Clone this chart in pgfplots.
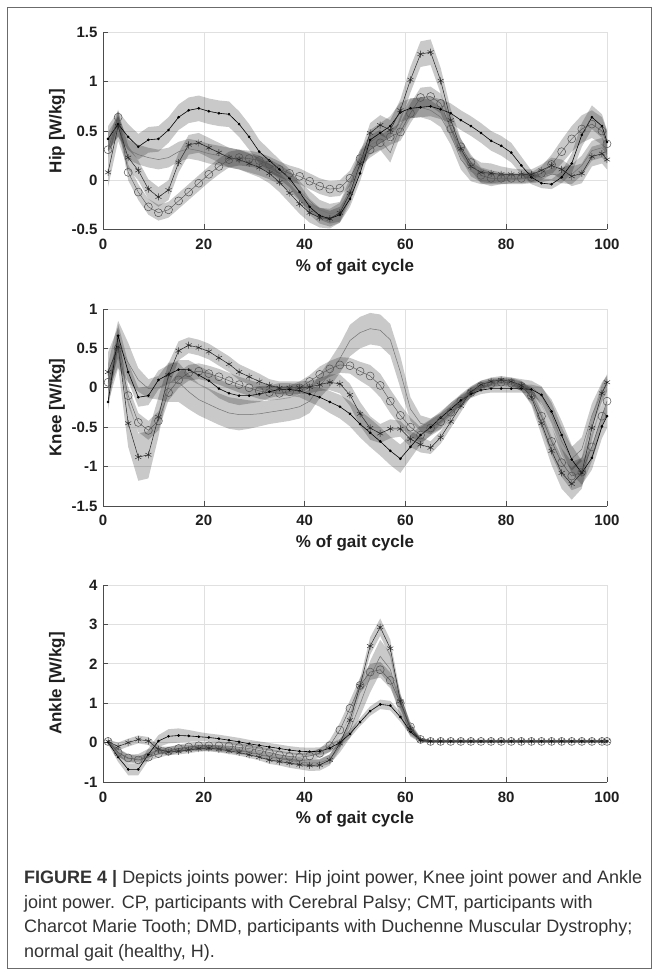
\documentclass[border=0pt]{standalone}
\usepackage{fontspec}
\setmainfont{Liberation Sans}
\usepackage{pgfplots}
\usepackage{pgfplotstable}
\pgfplotsset{compat=1.18}

\definecolor{gridgray}{gray}{0.88}
\definecolor{axgray}{gray}{0.30}
\definecolor{framegray}{gray}{0.42}

% columns: x, a = circles, b = asterisks, c = dots, d = thin line; s* = band half-width
\pgfplotstableread{
x a sa b sb c sc d sd
1 0.31 0.08 0.08 0.15 0.42 0.13 0.39 0.10
3 0.64 0.08 0.55 0.15 0.57 0.13 0.55 0.10
5 0.08 0.08 0.23 0.12 0.44 0.13 0.31 0.10
7 -0.12 0.08 0.10 0.10 0.34 0.13 0.26 0.10
9 -0.27 0.08 -0.09 0.10 0.41 0.13 0.23 0.10
11 -0.33 0.08 -0.17 0.10 0.42 0.13 0.21 0.10
13 -0.30 0.08 -0.10 0.10 0.51 0.13 0.23 0.10
15 -0.21 0.08 0.18 0.10 0.64 0.13 0.29 0.10
17 -0.12 0.08 0.36 0.10 0.71 0.13 0.32 0.10
19 -0.03 0.08 0.38 0.10 0.73 0.13 0.30 0.10
21 0.06 0.08 0.33 0.10 0.70 0.13 0.27 0.10
23 0.14 0.08 0.28 0.10 0.68 0.13 0.25 0.10
25 0.21 0.08 0.23 0.10 0.67 0.13 0.23 0.10
27 0.23 0.08 0.21 0.10 0.57 0.13 0.21 0.10
29 0.22 0.08 0.17 0.10 0.44 0.13 0.18 0.10
31 0.20 0.08 0.13 0.10 0.29 0.12 0.15 0.10
33 0.16 0.08 0.07 0.10 0.20 0.11 0.11 0.10
35 0.11 0.08 -0.02 0.10 0.11 0.10 0.06 0.10
37 0.07 0.08 -0.13 0.10 0.02 0.09 -0.01 0.10
39 0.04 0.08 -0.24 0.10 -0.12 0.08 -0.11 0.10
41 -0.01 0.08 -0.33 0.10 -0.27 0.08 -0.21 0.10
43 -0.06 0.08 -0.38 0.10 -0.36 0.08 -0.30 0.10
45 -0.09 0.08 -0.39 0.10 -0.39 0.08 -0.34 0.10
47 -0.08 0.08 -0.33 0.10 -0.35 0.08 -0.32 0.10
49 0.02 0.08 -0.13 0.10 -0.19 0.08 -0.08 0.10
51 0.22 0.08 0.17 0.10 0.07 0.08 0.21 0.10
53 0.31 0.08 0.48 0.10 0.41 0.10 0.36 0.10
55 0.38 0.08 0.56 0.10 0.48 0.10 0.41 0.10
57 0.44 0.08 0.51 0.10 0.55 0.10 0.28 0.10
59 0.49 0.09 0.71 0.11 0.69 0.10 0.55 0.10
61 0.68 0.10 1.02 0.13 0.73 0.10 0.73 0.10
63 0.84 0.10 1.28 0.13 0.74 0.10 0.74 0.10
65 0.85 0.10 1.30 0.13 0.75 0.10 0.71 0.10
67 0.78 0.10 1.01 0.13 0.72 0.10 0.64 0.10
69 0.52 0.09 0.61 0.11 0.68 0.10 0.46 0.10
71 0.34 0.08 0.32 0.10 0.61 0.10 0.21 0.10
73 0.18 0.08 0.14 0.10 0.55 0.10 0.09 0.10
75 0.05 0.08 0.08 0.10 0.48 0.10 0.04 0.08
77 0.02 0.08 0.07 0.10 0.40 0.10 0.02 0.06
79 0.02 0.06 0.06 0.08 0.35 0.10 0.01 0.05
81 0.02 0.05 0.06 0.06 0.28 0.10 0.01 0.05
83 0.02 0.05 0.06 0.05 0.15 0.09 0.01 0.05
85 0.03 0.05 0.06 0.05 0.03 0.07 0.02 0.05
87 0.07 0.07 0.10 0.06 -0.03 0.05 0.03 0.05
89 0.16 0.10 0.15 0.08 -0.04 0.05 0.06 0.06
91 0.29 0.12 0.11 0.10 0.03 0.06 0.05 0.08
93 0.42 0.13 0.04 0.10 0.17 0.10 0.06 0.10
95 0.52 0.14 0.07 0.10 0.46 0.12 0.15 0.10
97 0.57 0.14 0.24 0.10 0.64 0.12 0.30 0.10
99 0.50 0.14 0.27 0.10 0.55 0.12 0.33 0.10
100 0.37 0.13 0.21 0.10 0.39 0.12 0.27 0.10
}\hipdata

\pgfplotstableread{
x a sa b sb c sc d sd
1 0.07 0.10 0.20 0.25 -0.18 0.10 0.05 0.25
3 0.50 0.12 0.52 0.25 0.66 0.15 0.55 0.30
5 -0.10 0.12 -0.45 0.30 0.20 0.12 0.32 0.25
7 -0.44 0.12 -0.88 0.30 -0.12 0.12 0.10 0.15
9 -0.54 0.12 -0.85 0.30 -0.10 0.12 -0.01 0.12
11 -0.42 0.12 -0.37 0.25 0.10 0.12 0.00 0.15
13 -0.06 0.10 0.16 0.15 0.17 0.12 0.07 0.25
15 0.10 0.10 0.47 0.12 0.23 0.12 0.07 0.25
17 0.19 0.10 0.54 0.10 0.23 0.12 -0.05 0.22
19 0.21 0.10 0.51 0.10 0.16 0.12 -0.15 0.20
21 0.18 0.10 0.46 0.10 0.09 0.12 -0.21 0.20
23 0.14 0.10 0.38 0.10 -0.01 0.12 -0.27 0.20
25 0.09 0.10 0.30 0.10 -0.07 0.12 -0.32 0.20
27 0.04 0.10 0.20 0.10 -0.10 0.12 -0.34 0.20
29 0.00 0.10 0.14 0.10 -0.10 0.10 -0.34 0.18
31 -0.04 0.10 0.08 0.10 -0.08 0.10 -0.33 0.16
33 -0.06 0.10 0.03 0.08 -0.05 0.08 -0.31 0.15
35 -0.07 0.08 0.00 0.08 -0.02 0.08 -0.29 0.15
37 -0.05 0.08 0.00 0.08 -0.02 0.08 -0.27 0.15
39 0.00 0.08 0.00 0.08 -0.04 0.08 -0.24 0.15
41 0.08 0.08 0.01 0.08 -0.08 0.10 -0.17 0.15
43 0.17 0.10 0.04 0.08 -0.12 0.12 0.02 0.15
45 0.24 0.10 0.07 0.10 -0.18 0.14 0.18 0.17
47 0.29 0.10 0.05 0.12 -0.24 0.15 0.37 0.18
49 0.28 0.10 -0.09 0.14 -0.33 0.16 0.60 0.20
51 0.21 0.12 -0.33 0.15 -0.46 0.17 0.70 0.20
53 0.15 0.14 -0.51 0.15 -0.57 0.18 0.75 0.20
55 0.03 0.15 -0.58 0.12 -0.68 0.18 0.73 0.20
57 -0.17 0.15 -0.52 0.12 -0.80 0.18 0.61 0.20
59 -0.35 0.14 -0.52 0.10 -0.90 0.18 0.20 0.20
61 -0.50 0.12 -0.65 0.10 -0.75 0.15 -0.27 0.15
63 -0.60 0.10 -0.72 0.10 -0.60 0.12 -0.45 0.10
65 -0.51 0.10 -0.76 0.08 -0.50 0.10 -0.49 0.10
67 -0.43 0.10 -0.63 0.08 -0.38 0.08 -0.42 0.10
69 -0.31 0.08 -0.43 0.08 -0.27 0.08 -0.27 0.08
71 -0.17 0.08 -0.23 0.08 -0.16 0.06 -0.14 0.06
73 -0.06 0.06 -0.05 0.06 -0.08 0.05 -0.03 0.05
75 0.02 0.05 0.04 0.05 -0.03 0.05 0.04 0.05
77 0.05 0.05 0.08 0.05 -0.01 0.05 0.07 0.05
79 0.07 0.05 0.10 0.05 -0.01 0.05 0.08 0.05
81 0.06 0.05 0.08 0.05 -0.01 0.05 0.08 0.05
83 0.02 0.06 0.03 0.06 -0.01 0.05 0.05 0.06
85 -0.10 0.10 -0.12 0.10 -0.02 0.06 0.01 0.08
87 -0.36 0.15 -0.45 0.15 -0.09 0.10 -0.10 0.12
89 -0.68 0.18 -0.80 0.18 -0.30 0.15 -0.34 0.15
91 -0.95 0.18 -1.08 0.20 -0.60 0.18 -0.68 0.18
93 -1.12 0.18 -1.22 0.20 -0.91 0.18 -0.90 0.15
95 -1.07 0.18 -1.08 0.20 -1.08 0.15 -0.78 0.15
97 -0.75 0.18 -0.51 0.15 -0.89 0.15 -0.35 0.15
99 -0.36 0.15 -0.07 0.12 -0.49 0.15 -0.05 0.12
100 -0.17 0.15 0.07 0.10 -0.36 0.15 0.05 0.10
}\kneedata

\pgfplotstableread{
x a sa b sb c sc d sd
1 0.03 0.05 0.03 0.05 0.01 0.05 0.01 0.05
3 -0.25 0.10 -0.10 0.10 -0.37 0.12 -0.26 0.10
5 -0.39 0.10 0.00 0.10 -0.68 0.15 -0.41 0.10
7 -0.44 0.10 0.08 0.10 -0.68 0.15 -0.39 0.10
9 -0.37 0.10 0.04 0.10 -0.30 0.15 -0.26 0.10
11 -0.28 0.10 -0.17 0.10 0.04 0.15 -0.21 0.10
13 -0.22 0.10 -0.24 0.08 0.16 0.18 -0.18 0.08
15 -0.15 0.10 -0.22 0.08 0.18 0.18 -0.15 0.08
17 -0.11 0.10 -0.19 0.08 0.17 0.15 -0.14 0.08
19 -0.08 0.10 -0.15 0.08 0.15 0.12 -0.13 0.08
21 -0.08 0.10 -0.14 0.08 0.13 0.10 -0.13 0.08
23 -0.08 0.10 -0.17 0.08 0.10 0.10 -0.15 0.08
25 -0.09 0.10 -0.21 0.08 0.06 0.10 -0.18 0.08
27 -0.12 0.10 -0.25 0.08 0.02 0.10 -0.21 0.08
29 -0.15 0.10 -0.31 0.08 -0.03 0.10 -0.25 0.08
31 -0.20 0.10 -0.37 0.08 -0.07 0.10 -0.30 0.08
33 -0.25 0.10 -0.44 0.10 -0.11 0.10 -0.36 0.10
35 -0.31 0.10 -0.48 0.10 -0.15 0.10 -0.41 0.10
37 -0.35 0.10 -0.52 0.12 -0.19 0.10 -0.45 0.10
39 -0.37 0.10 -0.56 0.12 -0.22 0.10 -0.49 0.10
41 -0.34 0.10 -0.58 0.14 -0.23 0.10 -0.52 0.10
43 -0.27 0.12 -0.57 0.14 -0.22 0.10 -0.51 0.10
45 -0.08 0.15 -0.44 0.14 -0.14 0.10 -0.42 0.12
47 0.32 0.18 -0.02 0.14 0.00 0.10 -0.10 0.15
49 0.87 0.20 0.57 0.15 0.22 0.10 0.32 0.20
51 1.45 0.20 1.44 0.18 0.52 0.10 0.97 0.30
53 1.79 0.20 2.45 0.22 0.80 0.12 1.67 0.40
55 1.85 0.20 2.93 0.22 0.97 0.12 2.19 0.42
57 1.58 0.20 2.39 0.22 0.94 0.12 1.86 0.40
59 1.00 0.18 1.05 0.18 0.65 0.12 0.95 0.30
61 0.40 0.12 0.35 0.12 0.28 0.10 0.30 0.15
63 0.08 0.05 0.07 0.05 0.06 0.05 0.05 0.05
65 0.03 0.03 0.04 0.03 0.03 0.03 0.03 0.03
67 0.03 0.03 0.04 0.03 0.03 0.03 0.03 0.03
69 0.03 0.03 0.04 0.03 0.03 0.03 0.03 0.03
71 0.03 0.03 0.04 0.03 0.03 0.03 0.03 0.03
73 0.03 0.03 0.04 0.03 0.03 0.03 0.03 0.03
75 0.03 0.03 0.04 0.03 0.03 0.03 0.03 0.03
77 0.03 0.03 0.04 0.03 0.03 0.03 0.03 0.03
79 0.03 0.03 0.04 0.03 0.03 0.03 0.03 0.03
81 0.03 0.03 0.04 0.03 0.03 0.03 0.03 0.03
83 0.03 0.03 0.04 0.03 0.03 0.03 0.03 0.03
85 0.03 0.03 0.04 0.03 0.03 0.03 0.03 0.03
87 0.03 0.03 0.04 0.03 0.03 0.03 0.03 0.03
89 0.03 0.03 0.04 0.03 0.03 0.03 0.03 0.03
91 0.03 0.03 0.04 0.03 0.03 0.03 0.03 0.03
93 0.03 0.03 0.04 0.03 0.03 0.03 0.03 0.03
95 0.03 0.03 0.04 0.03 0.03 0.03 0.03 0.03
97 0.03 0.03 0.04 0.03 0.03 0.03 0.03 0.03
99 0.03 0.03 0.04 0.03 0.03 0.03 0.03 0.03
100 0.03 0.03 0.04 0.03 0.03 0.03 0.03 0.03
}\ankledata

\pgfplotsset{
  gaitaxis/.style={
    scale only axis, width=504pt, height=197pt, anchor=south west,
    xmin=0, xmax=100, xtick={0,20,40,60,80,100},
    axis x line*=bottom, axis y line*=left,
    axis line style={draw=axgray, line width=0.8pt},
    grid=major, major grid style={draw=gridgray, line width=0.6pt},
    tick style={draw=axgray, line width=0.6pt}, tick align=inside, major tick length=5pt,
    /pgf/number format/assume math mode=true,
    /pgf/number format/fixed,
    ticklabel style={font=\fontsize{15}{18}\selectfont\bfseries, text=black!88},
    xticklabel style={yshift=-6pt},
    yticklabel style={xshift=-2pt},
    label style={font=\fontsize{17}{20}\selectfont\bfseries, text=black!88},
    xlabel={\% of gait cycle},
    xlabel style={at={(axis description cs:0.5,-0.19)}, anchor=center},
    ylabel style={at={(axis description cs:-0.0913,0.5)}, anchor=center, rotate=0},
  },
  bandfill/.style={draw=none, fill=black, fill opacity=0.21},
  circl/.style={draw=black!68, line width=0.4pt, mark=o, mark size=4pt,
    mark options={solid, line width=0.5pt, draw=black!68}},
  starl/.style={draw=black!85, line width=0.5pt, mark=asterisk, mark size=3.5pt,
    mark options={solid, line width=0.45pt, draw=black!85}},
  dotl/.style={draw=black, line width=0.6pt, mark=*, mark size=1pt,
    mark options={solid, fill=black, draw=black}},
  thinl/.style={draw=black!55, line width=0.5pt, mark=none},
}

% bands via stacked plots: each band is a lower (invisible) plot and a 2*sd plot filled to it
\newcommand{\allplots}[1]{%
  \addplot[draw=none, stack plots=y] table[x=x, y expr=\thisrow{d}-\thisrow{sd}] {#1};
  \addplot[bandfill, stack plots=y] table[x=x, y expr=2*\thisrow{sd}] {#1} \closedcycle;
  \addplot[draw=none, stack plots=y] table[x=x, y expr=\thisrow{c}-\thisrow{sc}-\thisrow{d}-\thisrow{sd}] {#1};
  \addplot[bandfill, stack plots=y] table[x=x, y expr=2*\thisrow{sc}] {#1} \closedcycle;
  \addplot[draw=none, stack plots=y] table[x=x, y expr=\thisrow{b}-\thisrow{sb}-\thisrow{c}-\thisrow{sc}] {#1};
  \addplot[bandfill, stack plots=y] table[x=x, y expr=2*\thisrow{sb}] {#1} \closedcycle;
  \addplot[draw=none, stack plots=y] table[x=x, y expr=\thisrow{a}-\thisrow{sa}-\thisrow{b}-\thisrow{sb}] {#1};
  \addplot[bandfill, stack plots=y] table[x=x, y expr=2*\thisrow{sa}] {#1} \closedcycle;
  \addplot[thinl] table[x=x, y=d] {#1};
  \addplot[dotl] table[x=x, y=c] {#1};
  \addplot[starl] table[x=x, y=b] {#1};
  \addplot[circl] table[x=x, y=a] {#1};
}

\begin{document}
\begin{tikzpicture}
\path[fill=white] (0pt,0pt) rectangle (659pt,976pt);
\draw[framegray, line width=1.3pt] (7.5pt,7.5pt) rectangle (651.5pt,968.5pt);

\begin{axis}[gaitaxis, at={(103pt,746.5pt)},
  ymin=-0.5, ymax=1.5, ytick={-0.5,0,0.5,1,1.5}, ylabel={Hip [W/kg]}]
  \allplots{\hipdata}
\end{axis}

\begin{axis}[gaitaxis, at={(103pt,470pt)},
  ymin=-1.5, ymax=1, ytick={-1.5,-1,-0.5,0,0.5,1}, ylabel={Knee [W/kg]}]
  \allplots{\kneedata}
\end{axis}

\begin{axis}[gaitaxis, at={(103pt,194pt)},
  ymin=-1, ymax=4, ytick={-1,0,1,2,3,4}, ylabel={Ankle [W/kg]}]
  \allplots{\ankledata}
\end{axis}

\begin{scope}[every node/.style={anchor=base west, inner sep=0pt,
    font=\fontsize{18}{24}\selectfont, text=black!80}]
  \node at (24pt,92pt) {\textbf{FIGURE 4 |} Depicts joints power: Hip joint power, Knee joint power and Ankle};
  \node at (24pt,67.5pt) {joint power. CP, participants with Cerebral Palsy; CMT, participants with};
  \node at (24pt,43pt) {Charcot Marie Tooth; DMD, participants with Duchenne Muscular Dystrophy;};
  \node at (24pt,18.5pt) {normal gait (healthy, H).};
\end{scope}
\end{tikzpicture}
\end{document}
